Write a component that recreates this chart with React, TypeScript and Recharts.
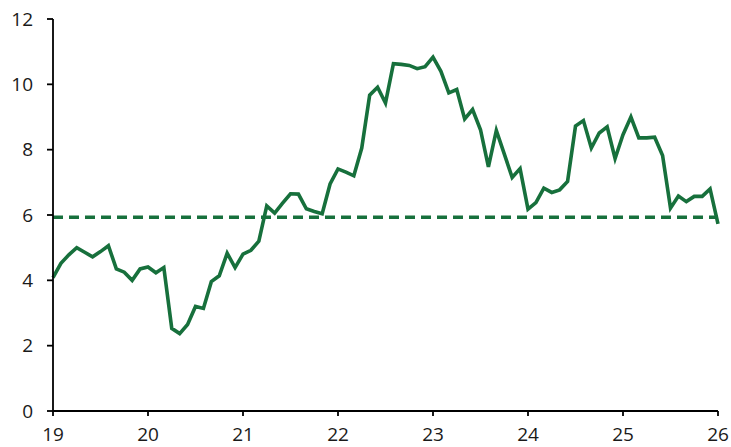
import { LineChart, Line, XAxis, YAxis, ReferenceLine } from "recharts";

// monthly readings, Jan 2019 .. Jan 2026
const values2019 = [4.08, 4.52, 4.78, 5.0, 4.86, 4.72, 4.88, 5.06, 4.35, 4.25, 4.0, 4.35];
const values2020 = [4.41, 4.23, 4.39, 2.53, 2.37, 2.65, 3.2, 3.14, 3.96, 4.14, 4.83, 4.39];
const values2021 = [4.8, 4.92, 5.2, 6.28, 6.06, 6.36, 6.65, 6.64, 6.19, 6.11, 6.04, 6.95];
const values2022 = [7.41, 7.31, 7.2, 8.05, 9.67, 9.91, 9.43, 10.63, 10.61, 10.58, 10.48, 10.54];
const values2023 = [10.83, 10.4, 9.74, 9.84, 8.94, 9.23, 8.61, 7.47, 8.59, 7.87, 7.15, 7.42];
const values2024 = [6.18, 6.38, 6.82, 6.69, 6.77, 7.03, 8.72, 8.89, 8.05, 8.51, 8.7, 7.73];
const values2025 = [8.46, 9.0, 8.36, 8.36, 8.38, 7.82, 6.21, 6.58, 6.41, 6.57, 6.57, 6.8];
const values2026 = [5.73];

const average = 5.93;

const yearLabels = ["19", "20", "21", "22", "23", "24", "25", "26"];
const yTicks = [0, 2, 4, 6, 8, 10, 12];

const allValues = [
  ...values2019,
  ...values2020,
  ...values2021,
  ...values2022,
  ...values2023,
  ...values2024,
  ...values2025,
  ...values2026,
];
const data = allValues.map((v, i) => ({ m: i, v }));
const xTicks = yearLabels.map((_, i) => i * 12);

const green = "#17703c";
const tickStyle = { fontSize: 19, fill: "#1a1a1a", fontFamily: "'Open Sans'" };

export default function App() {
  return (
    <div style={{ position: "absolute", left: 0, top: 0 }}>
      <LineChart
        width={731}
        height={447}
        data={data}
        margin={{ top: 19, right: 13, left: 0, bottom: 0 }}
      >
        <XAxis
          dataKey="m"
          type="number"
          domain={[0, 84]}
          ticks={xTicks}
          tickFormatter={(v: number) => yearLabels[v / 12]}
          height={36}
          tick={tickStyle}
          tickSize={5}
          tickMargin={12}
          axisLine={{ stroke: "#000", strokeWidth: 1.8 }}
          tickLine={{ stroke: "#000", strokeWidth: 1.8 }}
          interval={0}
        />
        <YAxis
          domain={[0, 12]}
          ticks={yTicks}
          width={53}
          tick={tickStyle}
          tickSize={6}
          tickMargin={14}
          axisLine={{ stroke: "#000", strokeWidth: 1.8 }}
          tickLine={{ stroke: "#000", strokeWidth: 1.8 }}
          interval={0}
        />
        <ReferenceLine
          y={average}
          stroke={green}
          strokeWidth={3.5}
          strokeDasharray="10 6"
        />
        <Line
          dataKey="v"
          type="linear"
          stroke={green}
          strokeWidth={3.6}
          dot={false}
          isAnimationActive={false}
        />
      </LineChart>
    </div>
  );
}
